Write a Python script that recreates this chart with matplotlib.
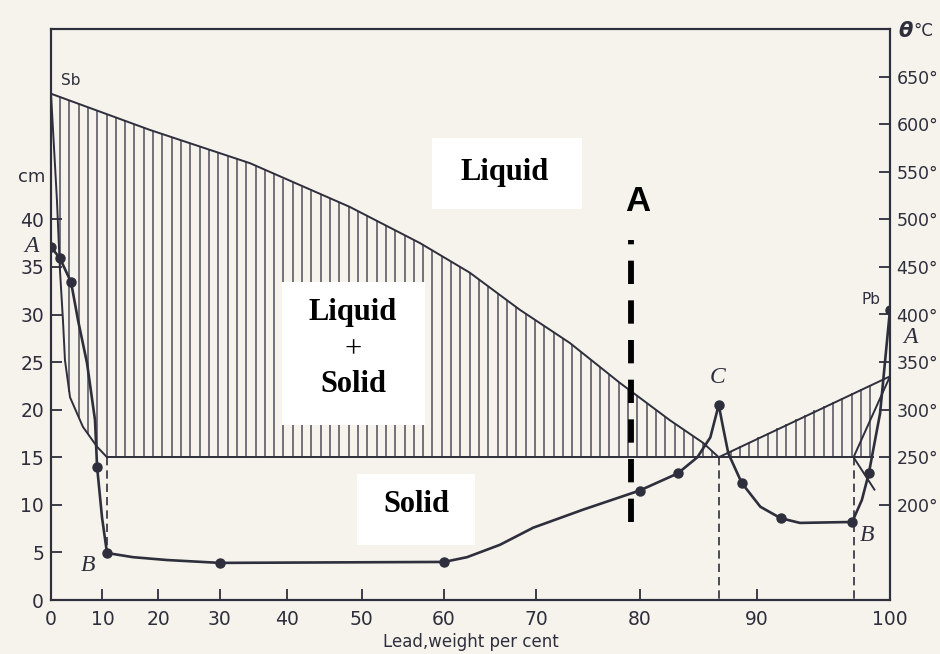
import numpy as np
import matplotlib.pyplot as plt
from matplotlib.patches import Rectangle

# x axis is spaced by atomic fraction but labelled in weight per cent of lead
M_PB, M_SB = 207.2, 121.76


def to_atomic(w):
    w = np.asarray(w, dtype=float)
    with np.errstate(divide='ignore', invalid='ignore'):
        return (w / M_PB) / (w / M_PB + (100 - w) / M_SB)


def to_weight(a):
    a = np.asarray(a, dtype=float)
    with np.errstate(divide='ignore', invalid='ignore'):
        return 100 * a * M_PB / ((1 - a) * M_SB + a * M_PB)


# === phase diagram (right axis, deg C) ===
liq_sb_w = [0, 18.5, 34.6, 48.5, 57.2, 62.9, 68.3, 73.4, 78.2, 82.7, 85.6, 86.9]
liq_sb_t = [632, 594, 559, 513, 475, 444, 405, 370, 328, 289, 265, 250]
sol_sb_w = [0, 1.2, 1.8, 2.4, 2.8, 3.8, 6.3, 9.0, 10.85]
sol_sb_t = [632, 520, 447, 394, 352, 313, 282, 261, 250]
liq_pb_w = [86.9, 100]
liq_pb_t = [250, 335]
sol_pb_w = [97.4, 100]
sol_pb_t = [250, 335]
solvus_pb_w = [97.4, 98.9]
solvus_pb_t = [250, 216]
eutectic_w = [10.85, 98.8]
eutectic_t = 250

# === measured curve (left axis, cm) ===
dots_w = [0, 1.8, 4.0, 9.0, 10.85, 30, 60, 80, 83.4, 86.9, 88.8, 91.9, 97.3, 98.5, 100]
dots_cm = [37.1, 35.9, 33.4, 14.0, 4.94, 3.9, 4.0, 11.5, 13.3, 20.5, 12.3, 8.6, 8.2, 13.3, 30.5]
curve_w = [0, 1.8, 4.0, 5.36, 7.09, 8.61, 9.0, 9.92, 10.85, 15.56, 21.45, 30, 60, 62.6,
           66.2, 69.7, 74.7, 80, 83.4, 85.1, 86.2, 86.9, 87.3, 87.7, 88.8, 90.3, 91.9,
           93.4, 97.3, 98.0, 98.5, 99.3, 100]
curve_cm = [37.1, 35.9, 33.4, 29.4, 24.9, 18.9, 14.0, 8.7, 4.94, 4.5, 4.2, 3.9, 4.0, 4.5,
            5.8, 7.6, 9.5, 11.5, 13.3, 15.0, 17.1, 20.5, 17.9, 15.4, 12.3, 9.8, 8.6,
            8.1, 8.2, 10.5, 13.3, 19.6, 30.5]

# dashed drops from the eutectic line
drop_w = [10.85, 86.9, 97.4]
drop_bottom = [4.94, 0, 0]
drop_top = 15

# alloy A
sample_w = 79.2
sample_cm = (8.2, 37.8)

x_ticks = list(range(0, 101, 10))
cm_ticks = list(range(0, 41, 5))
t_ticks = list(range(200, 651, 50))

paper = '#f5f3ec'
ink = '#2e2e3c'
hatch_col = '#4e4e5a'

fig = plt.figure(figsize=(9.4, 6.54), dpi=100, facecolor=paper)
ax = fig.add_axes([51 / 940, 54 / 654, 839 / 940, 571 / 654])
ax2 = ax.twinx()
ax.set_zorder(ax2.get_zorder() + 1)
ax.patch.set_visible(False)
ax2.patch.set_visible(True)
ax2.patch.set_facecolor(paper)

ax.set_xscale('function', functions=(to_atomic, to_weight))
ax.set_xlim(0, 100)
ax.set_ylim(0, 60)
ax2.set_ylim(100, 700)

# --- hatching of the liquid + solid fields ---
hatch_w = to_weight(np.arange(0.0107, 0.999, 0.0111))
left = hatch_w < liq_sb_w[-1]
top = np.where(left, np.interp(hatch_w, liq_sb_w, liq_sb_t), np.interp(hatch_w, liq_pb_w, liq_pb_t))
bottom = np.where(left, np.interp(hatch_w, sol_sb_w, sol_sb_t), eutectic_t)
keep = (top > bottom + 1) & (hatch_w <= eutectic_w[1])
ax2.vlines(hatch_w[keep], bottom[keep], top[keep], colors=hatch_col, lw=1.1)

# --- phase boundaries ---
for xs, ys in [(liq_sb_w, liq_sb_t), (sol_sb_w, sol_sb_t), (liq_pb_w, liq_pb_t),
               (sol_pb_w, sol_pb_t), (solvus_pb_w, solvus_pb_t),
               (eutectic_w, [eutectic_t, eutectic_t])]:
    ax2.plot(xs, ys, color=ink, lw=1.4)

ax2.annotate('Sb', xy=(0, liq_sb_t[0]), xytext=(14.5, 9.5), textcoords='offset points',
             ha='center', va='center', fontsize=11, color=ink)

# --- dashed drops ---
for w, b in zip(drop_w, drop_bottom):
    ax.plot([w, w], [drop_top, b], color=ink, lw=1.2, ls=(0, (5, 3)))

# --- curve with measured points ---
ax.plot(curve_w, curve_cm, color=ink, lw=1.9, solid_capstyle='round')
ax.plot(dots_w, dots_cm, 'o', color=ink, ms=6.5)

# letters on the curve
letter_style = dict(textcoords='offset points', ha='center', va='center',
                    fontsize=17, style='italic', family='Liberation Serif', color=ink)
ax.annotate('A', xy=(dots_w[0], dots_cm[0]), xytext=(-14, 0.5), **letter_style)
ax.annotate('B', xy=(dots_w[4], dots_cm[4]), xytext=(-13.5, -9), **letter_style)
ax.annotate('C', xy=(dots_w[9], dots_cm[9]), xytext=(-0.5, 19.5), **letter_style)
ax.annotate('B', xy=(dots_w[12], dots_cm[12]), xytext=(11, -10), **letter_style)
ax.annotate('A', xy=(dots_w[-1], dots_cm[-1]), xytext=(14.5, -20), **letter_style)
ax.annotate('Pb', xy=(dots_w[-1], dots_cm[-1]), xytext=(-14, 7.5), textcoords='offset points',
            ha='center', va='center', fontsize=11, color=ink)

# --- white label boxes ---
boxes = [(0.454, 0.685, 0.179, 0.124), (0.275, 0.306, 0.171, 0.251), (0.365, 0.096, 0.140, 0.125)]
for bx, by, bw, bh in boxes:
    ax.add_patch(Rectangle((bx, by), bw, bh, transform=ax.transAxes, facecolor='white',
                           edgecolor='none', zorder=5))

lab = dict(transform=ax.transAxes, ha='center', va='center', family='Liberation Serif',
           fontsize=22, color='black', zorder=6)
ax.text(0.541, 0.748, 'Liquid', fontweight='bold', **lab)
ax.text(0.360, 0.503, 'Liquid', fontweight='bold', **lab)
ax.text(0.360, 0.438, '+', **lab)
ax.text(0.360, 0.378, 'Solid', fontweight='bold', **lab)
ax.text(0.435, 0.168, 'Solid', fontweight='bold', **lab)

# --- alloy A marker ---
ax.plot([sample_w, sample_w], sample_cm, color='black', lw=4.2, ls=(0, (4, 2.8)), zorder=7)
ax.annotate('A', xy=(sample_w, sample_cm[1]), xytext=(5, 28), textcoords='offset points',
            ha='center', va='center', fontsize=25, fontweight='bold',
            family='Liberation Sans', color='black', zorder=7)

# --- axes styling ---
ax.set_xticks(x_ticks)
ax.set_xticklabels([str(t) for t in x_ticks])
ax.set_yticks(cm_ticks)
ax2.set_yticks(t_ticks)
ax2.set_yticklabels([f'{t}°' for t in t_ticks])
ax.minorticks_off()
ax.tick_params(axis='both', which='major', direction='in', length=8, width=1.3,
               labelsize=13.5, colors=ink)
ax.tick_params(axis='x', pad=7)
ax.tick_params(axis='y', pad=5)
ax2.tick_params(axis='y', direction='in', length=8, width=1.3, labelsize=12.5,
                colors=ink, pad=4.5)
for a in (ax, ax2):
    for s in a.spines.values():
        s.set_color(ink)
        s.set_linewidth(1.5)

ax.set_xlabel('Lead,weight per cent', fontsize=12, color=ink, labelpad=3)
fig.text(32 / 940, 1 - 177 / 654, 'cm', ha='center', va='center', fontsize=13, color=ink)
fig.text(906 / 940, 1 - 31 / 654, 'θ', ha='center', va='center', fontsize=15,
         fontweight='bold', style='italic', color=ink)
fig.text(913 / 940, 1 - 31 / 654, '°C', ha='left', va='center', fontsize=12, color=ink)

fig.savefig('out.png', dpi=100, facecolor=paper)
